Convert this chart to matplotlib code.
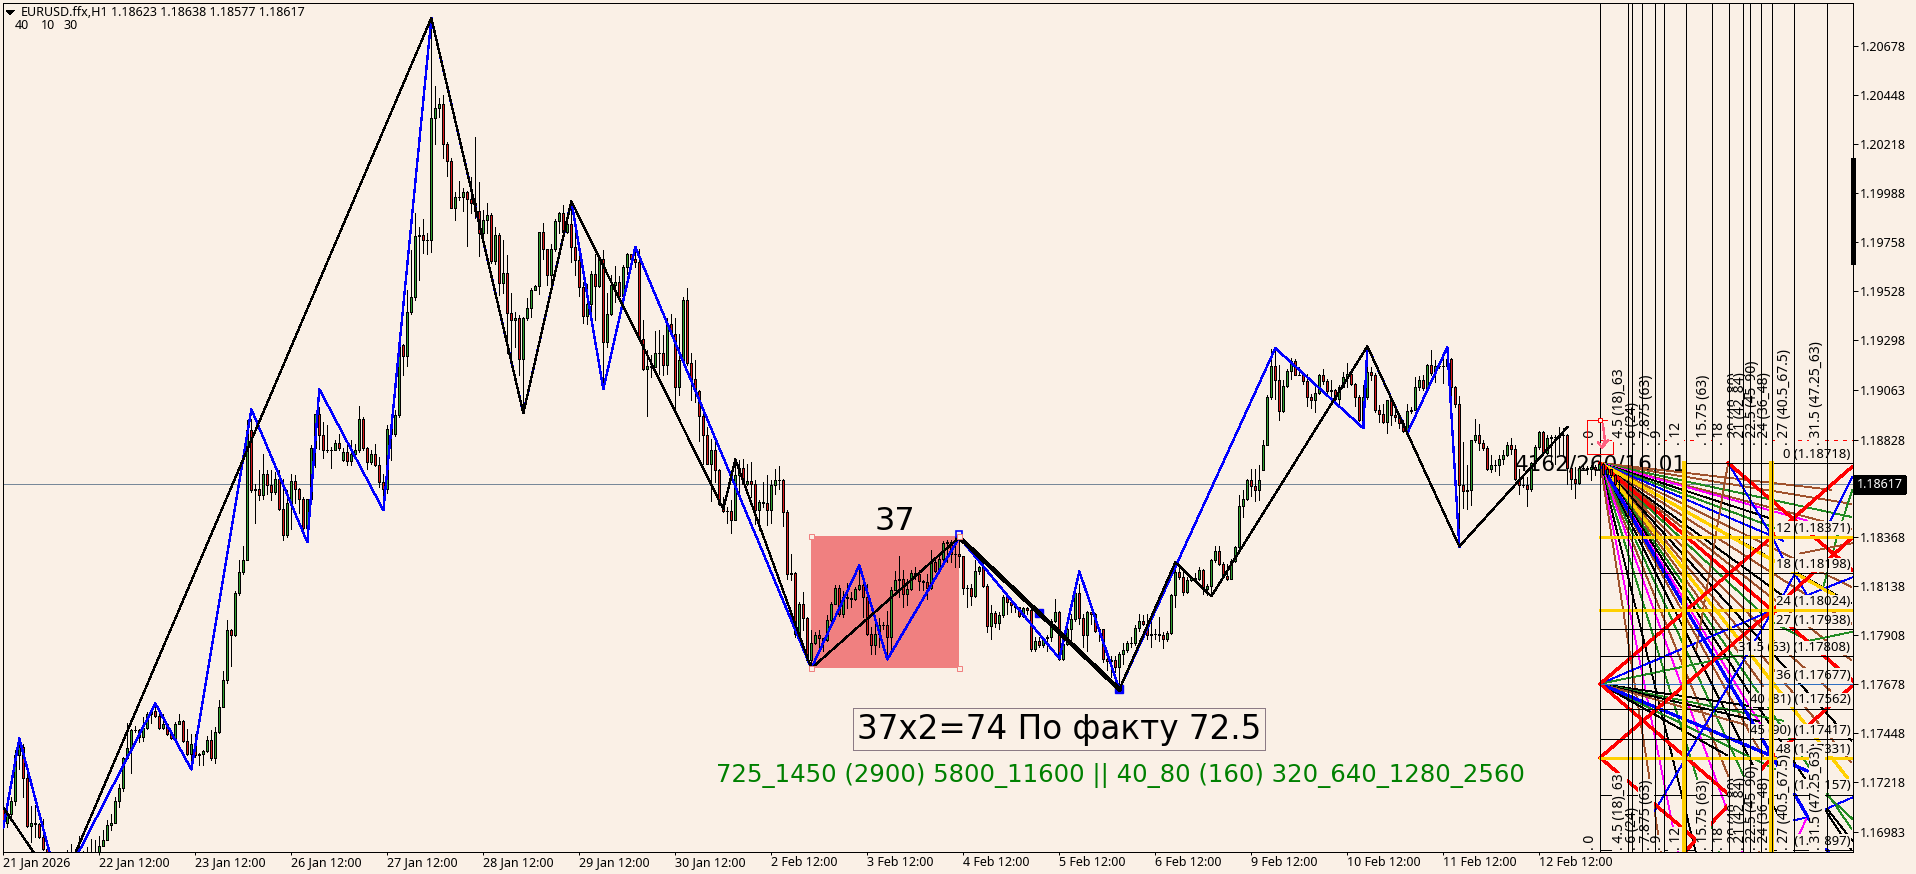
import matplotlib
matplotlib.use("Agg")
import matplotlib.pyplot as plt
from matplotlib.patches import Polygon, Rectangle
from matplotlib.transforms import Affine2D, blended_transform_factory

plt.rcParams['font.family'] = ['Noto Sans', 'DejaVu Sans']
plt.rcParams['lines.antialiased'] = False
plt.rcParams['patch.antialiased'] = False

W, H = 1916, 874
BG = '#FAF0E6'
BROWN, GREEN, BLACK, BLUE, MAG, GOLD, RED = '#A0522D', '#228B22', 'black', '#0000FF', '#FF00FF', '#FFD000', '#FF0000'
THIN = 0.6

# all prices kept as points above 1.16000
BASE = 1.16

CLOSE_PTS = [
    1023,1067,1129,1341,1380,1236,1008,1023,1019,957,
    900,850,830,815,790,800,810,820,800,850,
    870,860,885,880,917,944,1015,1023,1129,1189,
    1330,1377,1459,1459,1428,1472,1538,1548,1525,1472,
    1487,1443,1424,1490,1501,1409,1349,1393,1341,1346,
    1362,1415,1329,1451,1569,1698,1933,1910,2106,2205,
    2263,2875,2589,2597,2566,2668,2613,2580,2640,2503,
    2377,2527,2632,2593,2549,2412,2550,2786,2947,2848,
    2778,2781,2781,2812,2786,2767,2728,2762,2781,2927,
    2786,2723,2759,2707,2629,2597,2879,2856,2942,3272,
    3220,3426,3500,3785,3793,3767,3767,4340,4387,4406,
    4219,4140,3920,3968,3968,3993,3961,3942,3905,3798,
    3861,3884,3669,3790,3566,3614,3424,3390,3402,3209,
    3398,3449,3531,3550,3803,3727,3602,3723,3856,3892,
    3803,3842,3732,3672,3547,3410,3465,3606,3550,3676,
    3288,3418,3555,3570,3503,3641,3701,3680,3665,3303,
    3162,3175,3170,3233,3236,3178,3374,3327,3076,3204,
    3484,3186,3115,3057,2939,2850,2715,2778,2686,2526,
    2492,2490,2451,2660,2696,2620,2631,2617,2495,2533,
    2529,2495,2616,2639,2639,2487,2197,2200,1914,2055,
    1989,1788,1872,1906,1895,1886,1980,2055,2131,2005,
    2087,2083,2078,2125,2144,2086,1913,1859,1913,1953,
    1953,1898,2121,2165,2173,2102,2125,2201,2196,2162,
    2157,2129,2251,2209,2264,2342,2345,2290,2287,2278,
    2130,2129,2091,2207,2228,2138,1950,2012,1965,2000,
    2086,2063,2047,2039,1997,2034,2027,1843,1882,1862,
    1893,1898,1976,2017,1796,1866,1934,1984,2107,1987,
    1909,2016,2008,1929,1934,1796,1785,1791,1757,1819,
    1838,1870,1870,1942,1976,1961,1910,1913,1913,1910,
    1890,1918,2094,2204,2180,2110,2168,2177,2173,2212,
    2126,2139,2259,2302,2244,2184,2173,2256,2322,2514,
    2550,2636,2608,2589,2639,2804,3026,3175,3110,2963,
    3079,3150,3197,3132,3134,3104,3029,3013,3049,3131,
    3104,3055,3063,3021,3076,3120,3135,3088,3029,2919,
    3029,3145,3131,2966,2950,2911,3013,2942,2934,2906,
    2869,2961,2966,3073,3107,3071,3178,3142,3173,3175,
    3175,3209,3073,2994,2613,2586,2589,2825,2848,2814,
    2790,2691,2707,2710,2738,2757,2801,2782,2644,2613,
    2613,2597,2718,2793,2862,2765,2834,2840,2840,2848,
    2851,2694,2644,2624,2694,2694,2691,2699,2691,2715,
    2668,2691,2660,2621,2617,
]
HIGH_PTS = [
    1121,1082,1145,1365,1420,1396,1278,1101,1106,1023,
    1043,895,860,845,825,835,897,925,850,964,
    890,910,949,941,964,988,1035,1067,1145,1208,
    1333,1494,1467,1478,1467,1522,1545,1553,1585,1538,
    1538,1494,1451,1498,1534,1506,1464,1443,1443,1352,
    1365,1431,1462,1475,1603,1738,1980,1938,2115,2260,
    2326,2922,2927,2621,2684,2759,2684,2684,2676,2684,
    2644,2589,2665,2660,2602,2558,2550,2800,2950,2980,
    2911,2895,2793,2825,2856,2786,2801,2825,2809,2985,
    2935,2793,2778,2806,2746,2665,2895,2880,2966,3335,
    3280,3534,3720,3892,3826,3864,3798,4815,4492,4434,
    4450,4230,4151,3994,4044,4010,3999,4065,4253,4041,
    3908,3939,3892,3826,3798,3767,3696,3520,3429,3413,
    3405,3492,3539,3555,3806,3845,3727,3748,3864,3900,
    3931,3900,3924,3842,3719,3570,3562,3622,3701,3688,
    3720,3519,3602,3644,3597,3649,3707,3688,3720,3727,
    3390,3249,3225,3339,3343,3322,3398,3421,3398,3327,
    3500,3539,3236,3204,3060,2950,2887,2832,2832,2691,
    2558,2511,2542,2738,2734,2738,2712,2723,2636,2542,
    2628,2660,2636,2691,2704,2644,2495,2291,2204,2063,
    2110,1992,1930,1922,1930,1895,2000,2063,2142,2142,
    2115,2153,2110,2133,2235,2180,2149,1945,2000,1987,
    1968,2023,2133,2209,2282,2212,2173,2212,2228,2212,
    2165,2196,2306,2275,2275,2350,2356,2353,2369,2361,
    2278,2141,2149,2259,2235,2235,2149,2047,2023,2016,
    2094,2086,2063,2055,2039,2042,2042,2039,1898,1898,
    1898,1906,1984,2078,2023,1874,1961,2008,2125,2149,
    2008,2023,2016,2011,1945,1937,1804,1811,1811,1827,
    1870,1882,1898,1953,2008,2000,2008,1992,1937,1992,
    1921,1929,2102,2243,2243,2204,2180,2188,2199,2228,
    2220,2149,2267,2325,2325,2252,2244,2267,2327,2566,
    2589,2644,2691,2691,2707,2825,3037,3256,3248,3178,
    3107,3162,3214,3205,3170,3131,3135,3041,3076,3135,
    3162,3115,3107,3068,3084,3146,3190,3154,3095,3037,
    3084,3186,3170,3142,2989,2997,3016,3021,2997,2950,
    2919,2997,2982,3123,3126,3131,3183,3248,3201,3186,
    3225,3261,3214,3079,3032,2817,2707,2828,2927,2900,
    2825,2796,2754,2730,2754,2778,2817,2837,2801,2691,
    2668,2652,2723,2801,2869,2869,2848,2848,2848,2887,
    2880,2856,2699,2699,2702,2707,2702,2707,2707,2723,
    2718,2699,2691,2668,2638,
]
LOW_PTS = [
    1004,1004,1051,1106,1278,1145,1004,933,957,953,
    894,830,810,790,770,780,780,790,770,790,
    820,820,840,840,860,913,944,988,1027,1098,
    1176,1326,1258,1451,1404,1409,1467,1494,1522,1467,
    1467,1435,1420,1420,1490,1404,1341,1278,1333,1294,
    1294,1357,1321,1307,1446,1569,1682,1760,1902,2095,
    2197,2487,2580,2436,2542,2550,2574,2542,2574,2495,
    2354,2370,2409,2527,2480,2385,2401,2534,2699,2785,
    2739,2770,2696,2781,2778,2728,2707,2707,2739,2770,
    2778,2687,2715,2702,2605,2495,2577,2731,2843,2934,
    3131,3173,3418,3487,3578,3707,3701,3712,4219,4347,
    4154,4070,3919,3861,3955,3905,3738,3892,3869,3691,
    3735,3798,3657,3654,3508,3519,3233,3217,3264,3131,
    2953,3390,3405,3531,3512,3680,3555,3534,3716,3798,
    3798,3798,3665,3602,3503,3377,3371,3409,3390,3544,
    3068,3264,3413,3476,3497,3453,3606,3669,3641,3296,
    3157,2938,3123,3183,3136,3131,3136,3319,2974,3036,
    3201,3178,3013,3005,2821,2715,2715,2539,2628,2518,
    2487,2435,2388,2451,2558,2617,2613,2558,2432,2401,
    2511,2424,2435,2573,2597,2420,2173,2165,1898,1906,
    1930,1780,1773,1867,1828,1835,1879,1969,2052,1996,
    1992,2036,2039,2075,2121,1992,1910,1819,1819,1851,
    1937,1804,1835,2118,2086,2039,2047,2118,2173,2118,
    2118,2078,2125,2204,2204,2251,2251,2251,2228,2228,
    2099,2039,2047,2086,2196,2133,1921,1890,1945,1937,
    1992,2008,2016,2016,1992,1992,2008,1835,1835,1851,
    1851,1835,1882,1968,1791,1788,1859,1874,1976,1961,
    1851,1835,1961,1921,1882,1780,1741,1709,1733,1650,
    1772,1827,1851,1859,1929,1953,1890,1851,1890,1882,
    1848,1882,1913,2039,2173,2094,2105,2162,2157,2165,
    2102,2095,2095,2252,2236,2178,2168,2173,2252,2319,
    2463,2542,2561,2539,2545,2683,2801,3021,3021,2919,
    2958,3073,3115,3131,3131,3091,2985,2978,2958,3044,
    3091,3048,3021,2994,2989,3073,3073,3084,2985,2916,
    2911,3021,3107,2958,2911,2906,2859,2895,2916,2880,
    2864,2859,2953,2966,3063,3060,3060,3131,3099,3167,
    3095,3170,3029,2982,2325,2507,2503,2518,2817,2778,
    2778,2686,2675,2680,2660,2715,2749,2762,2636,2573,
    2605,2515,2586,2715,2785,2762,2762,2715,2715,2762,
    2754,2617,2597,2555,2620,2683,2668,2636,2660,2683,
    2660,2652,2652,2613,2577,
]
FIRST_OPEN = 1098
OPEN_OVERRIDE = {85: 2734, 315: 2686}

# zigzags
BLACK_BARS = [0, 14, 107, 130, 142, 180, 183, 202, 239]
BLACK_PTS = [1096, 705, 4812, 2952, 3950, 2500, 2735, 1751, 2368]
THICK_BARS = [239, 279]
THICK_PTS = [2368, 1652]
BLACK2_BARS = [279, 293, 302, 341, 364, 391]
BLACK2_PTS = [1652, 2250, 2090, 3267, 2325, 2886]
BLUE_BARS = [0, 4, 14, 38, 47, 62, 76, 79, 95, 107, 130, 142, 150, 158, 202, 214, 221, 239, 264, 269, 279,
             318, 340, 341, 351, 361, 364]
BLUE_PTS = [1002, 1421, 710, 1586, 1275, 2971, 2344, 3065, 2495, 4812, 2952, 3950, 3065, 3734, 1751, 2236,
            1793, 2368, 1798, 2208, 1652, 3258, 2881, 3267, 2858, 3263, 2325]

BOX_BARS = [202, 239]
BOX_PTS = [1751, 2372]

# time verticals of the right hand grid
VLINE_BARS = [399.2, 406.1, 407.1, 409.7, 413, 415.2, 420.7, 427.2, 431.5, 435, 436.7, 439.5, 442.2, 447.7, 455.8]
GOLD_VLINE_BARS = [420.1, 442.0]

LEVEL_NAMES = ['0', '12', '18', '24', '27', '31.5 (63)', '36', '40 (81)', '45 (90)', '48', '54', '63']
LEVEL_PTS = [2718, 2371, 2198, 2024, 1938, 1808, 1677, 1562, 1417, 1331, 1157, 897]
LEVEL_COLORS = [BLACK, GOLD, BLACK, GOLD, BLACK, BLACK, '#2F6FC0', BLACK, BLACK, GOLD, BLACK, BLACK]
LEVEL_START = [420.7] + [399.2] * 11
GRID_END = 462.3

# fans: price each ray reaches on bar 442.2, and the bar where it stops
FAN_A_ORIGIN = (399.2, 2718)
FAN_A_AT = [2624, 2586, 2544, 2506, 2492, 2454, 2417, 2374, 2318, 2266, 2200, 2129, 2082, 1964, 1894, 1823,
            1753, 1611, 1540, 1470, 1399, 1258, 1116, 952, 740, 505, 80, -579, -1332, -2463]
FAN_A_END = [457, 462, 462, 462, 451, 442, 446, 445, 462, 462, 462, 445, 462, 440, 440, 462,
             462, 440, 462, 462, 440, 440, 445, 442, 442, 442, 442, 442, 442, 442]
FAN_A_COL = [BROWN, BROWN, GREEN, BROWN, MAG, BLACK, GREEN, BLUE, BROWN, BLACK, BROWN, BLACK, BROWN, GREEN, BROWN,
             BLACK, BROWN, BROWN, GREEN, BLACK, MAG, BROWN, BLACK, GREEN, BROWN, MAG, GREEN, BLACK, MAG, BROWN]
THICK_A_AT = [2261, 1687, 1338]
THICK_A_END = [457.5, 461, 462.2]
THICK_A_COL = [GOLD, GOLD, BLUE]

FAN_B_ORIGIN = (399.2, 1678)
FAN_B_AT = [2024, 1845, 1558, 1515, 1487, 1283, 1223, 1450]
FAN_B_END = [442.2, 462.2, 440, 445, 439, 443, 431, 436]
FAN_B_COL = [BLUE, GREEN, BLACK, GREEN, BLACK, GREEN, BLACK, BROWN]
THICK_B_AT = 1338
THICK_B_END = 451

# red diagonals
RED_LINES = [
    ([399.2, 420.7, 442.2, 462.2], [1678, 2024, 2371, 2700]),
    ([399.2, 420.7, 442.2, 462.2], [1331, 1678, 2024, 2366]),
    ([420.7, 442.2, 462.2], [893, 1331, 1668]),
    ([399.2, 420.7, 442.2], [1678, 1331, 980]),
    ([399.2, 420.7, 424.2], [1331, 985, 925]),
    ([399.2, 420.7, 442.2, 462.2], [2718, 2371, 2024, 1694]),
    ([431.2, 462.2], [2718, 2215]),
]

# other thin pieces of the drawing on the right
THIN_BARS = [[431.2, 423.2], [431.2, 442.2, 444.9], [455.9, 462.2], [454.9, 458.4, 462.2], [444.7, 447.9, 450.9, 462.2],
             [449.2, 462.2], [412.9, 442.4], [447.4, 450.9, 462.2], [450.9, 447.9], [455.9, 462.2], [455.9, 462.2],
             [442.4, 451.2, 459.2], [442.4, 456.7]]
THIN_PTS = [[2718, 1835], [2718, 2371, 2269], [2415, 2650], [2128, 2368, 2589], [2085, 2198, 2095, 2179],
            [2292, 2340], [1082, 2024], [1035, 1049, 1143], [1049, 926], [1091, 941], [1153, 1044],
            [1967, 1883, 1732], [1883, 1647]]
THIN_COL = [BROWN, BLUE, BLUE, GREEN, BLUE, BROWN, BLUE, BLUE, MAG, BLACK, GREEN, GREEN, BROWN]

ROT_LABELS = ['0', '4.5 (18)_63', '6 (24)', '7.875 (63)', '9', '12', '15.75 (63)', '18', '20 (40_80)',
              '21 (42_84)', '22.5 (45_90)', '24 (36_48)', '27 (40.5_67.5)', '31.5 (47.25_63)']
ROT_BARS = [396.8, 404, 407.2, 410.7, 413.5, 418.2, 425, 429, 432.8, 434.3, 437.4, 440.2, 445.4, 453.4]

XTICK_LABELS = ['21 Jan 2026', '22 Jan 12:00', '23 Jan 12:00', '26 Jan 12:00', '27 Jan 12:00', '28 Jan 12:00',
                '29 Jan 12:00', '30 Jan 12:00', '2 Feb 12:00', '3 Feb 12:00', '4 Feb 12:00', '5 Feb 12:00',
                '6 Feb 12:00', '9 Feb 12:00', '10 Feb 12:00', '11 Feb 12:00', '12 Feb 12:00']
YTICKS = [1.20678, 1.20448, 1.20218, 1.19988, 1.19758, 1.19528, 1.19298, 1.19063, 1.18828, 1.18598, 1.18368,
          1.18138, 1.17908, 1.17678, 1.17448, 1.17218, 1.16983]
BID = 1.18617
DASH_PRICE = 1.18828


def pr(p):
	return BASE + p * 1e-5


def prs(seq):
	return [pr(p) for p in seq]


fig = plt.figure(figsize=(W / 100, H / 100), dpi=100, facecolor=BG)
L, R, T, B = 2.5, 1852.5, 2.5, 851.5
ax = fig.add_axes([L / W, 1 - B / H, (R - L) / W, (B - T) / H], facecolor=BG)
ax.set_xlim(-0.21, 462.29)
ax.set_ylim(pr(889.0), pr(4885.0))
px = Affine2D().scale(1, -1).translate(0, H)

for s in ax.spines.values():
	s.set_linewidth(0.72)

# ticks
ax.yaxis.tick_right()
ax.set_yticks(YTICKS)
ax.set_yticklabels(['%.5f' % v for v in YTICKS], fontsize=9)
ax.tick_params(axis='y', length=3.6, width=0.72, pad=1.5)
ax.set_xticks([24 * i for i in range(len(XTICK_LABELS))])
ax.set_xticklabels(XTICK_LABELS, fontsize=9, ha='left')
ax.tick_params(axis='x', length=2.2, width=0.72, pad=1)
ax.plot([GRID_END, GRID_END], [pr(3663), pr(4143)], color='k', lw=2.4, clip_on=False, zorder=6)

# red box
ax.add_patch(Rectangle((BOX_BARS[0], pr(BOX_PTS[0])), BOX_BARS[1] - BOX_BARS[0], pr(BOX_PTS[1]) - pr(BOX_PTS[0]),
                       fc='#F08080', ec='none', zorder=1))
ax.plot([BOX_BARS[0], BOX_BARS[0], BOX_BARS[1], BOX_BARS[1]], prs([BOX_PTS[1], BOX_PTS[0], BOX_PTS[0], BOX_PTS[1]]),
        ls='none', marker='s', ms=3.6, mfc=BG, mec='#F08080', mew=0.72, zorder=7)

ax.axhline(BID, color='#778899', lw=0.72, zorder=1.5)

ax.text(1515, 470, '4162/260/16.01', transform=px, fontsize=15.5, family='DejaVu Sans', color='k', zorder=1.6,
        clip_on=False)

# candles
opens = [FIRST_OPEN] + CLOSE_PTS[:-1]
for k, v in OPEN_OVERRIDE.items():
	opens[k] = v
bars = list(range(len(CLOSE_PTS)))
ax.vlines(bars, prs(LOW_PTS), prs(HIGH_PTS), color='k', lw=0.72, zorder=2.9)
for i, o, c in zip(bars, opens, CLOSE_PTS):
	col = '#2E9E2E' if c >= o else '#D81818'
	lo, hi = min(o, c), max(o, c)
	ax.bar(i, pr(hi) - pr(lo), bottom=pr(lo), width=0.5, color=col, edgecolor='k', linewidth=0.72, zorder=3)

# right hand fans
oa_x, oa_y = FAN_A_ORIGIN
span = 442.2 - oa_x
for at, end, col in zip(FAN_A_AT, FAN_A_END, FAN_A_COL):
	ye = oa_y + (at - oa_y) * (end - oa_x) / span
	ax.plot([oa_x, end], prs([oa_y, ye]), color=col, lw=THIN, zorder=2)
ob_x, ob_y = FAN_B_ORIGIN
for at, end, col in zip(FAN_B_AT, FAN_B_END, FAN_B_COL):
	ye = ob_y + (at - ob_y) * (end - ob_x) / span
	ax.plot([ob_x, end], prs([ob_y, ye]), color=col, lw=THIN, zorder=2)
for xs, ys, col in zip(THIN_BARS, THIN_PTS, THIN_COL):
	ax.plot(xs, prs(ys), color=col, lw=THIN, zorder=2)
for at, end, col in zip(THICK_A_AT, THICK_A_END, THICK_A_COL):
	ye = oa_y + (at - oa_y) * (end - oa_x) / span
	ax.plot([oa_x, end], prs([oa_y, ye]), color=col, lw=1.5, zorder=2.2)
ye = ob_y + (THICK_B_AT - ob_y) * (THICK_B_END - ob_x) / span
ax.plot([ob_x, THICK_B_END], prs([ob_y, ye]), color=BLUE, lw=1.5, zorder=2.2)
for xs, ys in RED_LINES:
	ax.plot(xs, prs(ys), color=RED, lw=1.6, zorder=2.3)

# levels
for name, p, col, st in zip(LEVEL_NAMES, LEVEL_PTS, LEVEL_COLORS, LEVEL_START):
	thick = col == GOLD
	ax.plot([st, GRID_END], [pr(p), pr(p)], color=col, lw=2.0 if thick else 0.7, zorder=2.5)
	ax.annotate('%s (%.5f)' % (name, pr(p)), xy=(GRID_END, pr(p)), xytext=(-1.5, 1.5), textcoords='offset points',
	            ha='right', va='bottom', fontsize=9.4, zorder=2.6,
	            bbox=dict(fc=BG, ec='none', pad=0.4), annotation_clip=False)

ax.plot([399.2, GRID_END], [DASH_PRICE, DASH_PRICE], color=RED, lw=0.7, ls=(0, (4, 6)), zorder=2.4)

# zigzags
ax.plot(BLUE_BARS, prs(BLUE_PTS), color=BLUE, lw=0.95, zorder=4)
ax.plot(BLACK_BARS, prs(BLACK_PTS), color='k', lw=0.9, zorder=5)
ax.plot(BLACK2_BARS, prs(BLACK2_PTS), color='k', lw=0.9, zorder=5)
ax.plot(THICK_BARS, prs(THICK_PTS), color='k', lw=2.4, zorder=5)
ax.plot([239], [pr(2385)], ls='none', marker='s', ms=5, mfc='none', mec=BLUE, mew=1.2, zorder=6)
ax.plot([279, 259], prs([1652, 2010]), ls='none', marker='s', ms=5.4, color=BLUE, zorder=4.5)

# rotated labels, top and bottom copies
for lab, b in zip(ROT_LABELS, ROT_BARS):
	for base in (2800, 895):
		ax.text(b, pr(base), '. ' + lab, rotation=90, ha='center', va='bottom', fontsize=10, zorder=3.5,
		        bbox=dict(fc=BG, ec='none', pad=0.2))

# verticals over the labels
for b in GOLD_VLINE_BARS:
	ax.plot([b, b], prs([893, 2718]), color=GOLD, lw=2.2, zorder=3.6)
for b in VLINE_BARS:
	ax.axvline(b, color='k', lw=0.7, zorder=3.8)

# red marker at the origin of the drawing
ax.plot([400.9, 395.9, 395.9], prs([2919, 2919, 2815]), color=RED, lw=0.7, zorder=3.9)
ax.plot([402.4, 402.4, 395.9, 395.9], prs([2815, 2759, 2759, 2815]), color=RED, lw=0.7, zorder=3.9)
ax.plot([399.2], [pr(2919)], ls='none', marker='s', ms=3, mfc=BG, mec=RED, mew=0.72, zorder=4)
ax.plot([399.9, 400.4, 399.7], prs([2900, 2825, 2790]), color='#FF6080', lw=1.0, zorder=3.9)
ax.plot([398.7, 399.7, 401.2], prs([2815, 2790, 2825]), color='#FF6080', lw=0.9, zorder=3.9)

# bid label
tr = blended_transform_factory(ax.transAxes, ax.transData)
ax.text(1.0022, BID, '1.18617', transform=tr, color='white', fontsize=9, va='center', ha='left', zorder=10,
        bbox=dict(fc='k', ec='k', pad=1.6), clip_on=False)

# header
fig.patches.append(Polygon([[6, 10], [14.5, 10], [10.2, 14.5]], closed=True, fc='k', ec='none', transform=px))
fig.text(21 / W, 1 - 12.5 / H, 'EURUSD.ffx,H1', fontsize=9, va='center')
fig.text(111 / W, 1 - 12.5 / H, '1.18623 1.18638 1.18577 1.18617', fontsize=9, va='center')
fig.text(15 / W, 1 - 25.5 / H, '40', fontsize=9, va='center')
fig.text(41 / W, 1 - 25.5 / H, '10', fontsize=9, va='center')
fig.text(63 / W, 1 - 25.5 / H, '30', fontsize=9, va='center')

# big captions
fig.text(895 / W, 1 - 522 / H, '37', fontsize=23, family='DejaVu Sans', ha='center', va='center')
fig.text(1059 / W, 1 - 729 / H, '37x2=74 По факту 72.5', fontsize=23.5, family='DejaVu Sans', ha='center', va='center',
         zorder=12, bbox=dict(fc=BG, ec='#8C7B85', lw=0.72, pad=3.0))
fig.text(1120.5 / W, 1 - 775 / H, '725_1450 (2900) 5800_11600 || 40_80 (160) 320_640_1280_2560', fontsize=17.6,
         family='DejaVu Sans', color='#008000', ha='center', va='center', zorder=12)

fig.savefig('out.png', dpi=100, facecolor=BG)
